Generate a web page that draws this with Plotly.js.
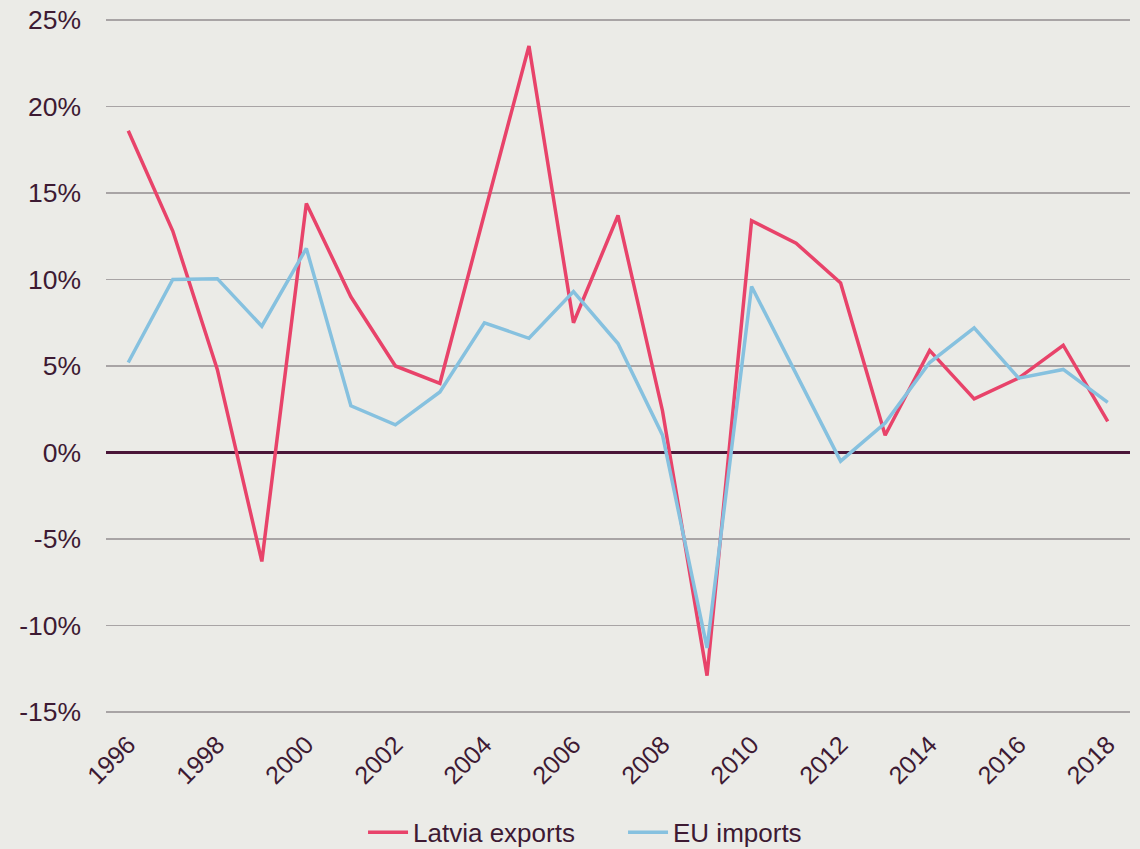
<!DOCTYPE html>
<html>
<head>
<meta charset="utf-8">
<script src="https://cdn.plot.ly/plotly-3.0.1.min.js"></script>
<style>
html,body{margin:0;padding:0;background:#ebebe7;}
#chart{width:1140px;height:849px;}
</style>
</head>
<body>
<div id="chart"></div>
<script>
const years = [1996,1997,1998,1999,2000,2001,2002,2003,2004,2005,2006,2007,2008,2009,2010,2011,2012,2013,2014,2015,2016,2017,2018];
const latviaExports = [18.6,12.8,4.8,-6.3,14.4,9.0,5.0,4.0,13.8,23.5,7.5,13.7,2.4,-12.9,13.4,12.1,9.8,1.0,5.9,3.1,4.3,6.2,1.8];
const euImports = [5.2,10.0,10.05,7.3,11.8,2.7,1.6,3.5,7.5,6.6,9.3,6.3,1.0,-11.3,9.6,4.6,-0.5,1.7,5.2,7.2,4.3,4.8,2.9];
const tickYears = [1996,1998,2000,2002,2004,2006,2008,2010,2012,2014,2016,2018];
const tickText = tickYears.map(String);
const yTicks = [-15,-10,-5,0,5,10,15,20,25];
const yTickText = ['-15%','-10%','-5%','0%','5%','10%','15%','20%','25%'];

const textColor = '#3d1a33';
const data = [
  {x: years, y: latviaExports, type: 'scatter', mode: 'lines', name: 'Latvia exports',
   line: {color: '#e8436a', width: 3.5}},
  {x: years, y: euImports, type: 'scatter', mode: 'lines', name: 'EU imports',
   line: {color: '#86c1df', width: 3.5}}
];
const layout = {
  width: 1140, height: 849,
  paper_bgcolor: '#ebebe7', plot_bgcolor: '#ebebe7',
  margin: {l: 106, r: 10, t: 19, b: 136, autoexpand: false},
  font: {family: '"Liberation Sans", Arial, sans-serif', color: textColor, size: 24},
  showlegend: true,
  legend: {orientation: 'h', x: 0.251, xanchor: 'left', y: -0.172, yanchor: 'middle',
           entrywidth: 205, entrywidthmode: 'pixels', itemwidth: 40,
           font: {size: 26, color: textColor}, bgcolor: 'rgba(0,0,0,0)'},
  xaxis: {range: [1995.5, 2018.5], tickvals: tickYears, ticktext: tickText,
          tickangle: -45, showgrid: false, zeroline: false, showline: false, automargin: false,
          ticks: '', ticklabelstandoff: 11, tickfont: {size: 25, color: textColor}},
  yaxis: {range: [-15.06, 25.06], tickvals: yTicks, ticktext: yTickText, automargin: false,
          showgrid: true, gridcolor: '#a8a4a5', gridwidth: 1.5,
          zeroline: true, zerolinecolor: '#4a1538', zerolinewidth: 3,
          showline: false, ticks: '', ticklabelstandoff: 24,
          tickfont: {size: 26.5, color: textColor}}
};
Plotly.newPlot('chart', data, layout, {displayModeBar: false, staticPlot: true});
</script>
</body>
</html>
